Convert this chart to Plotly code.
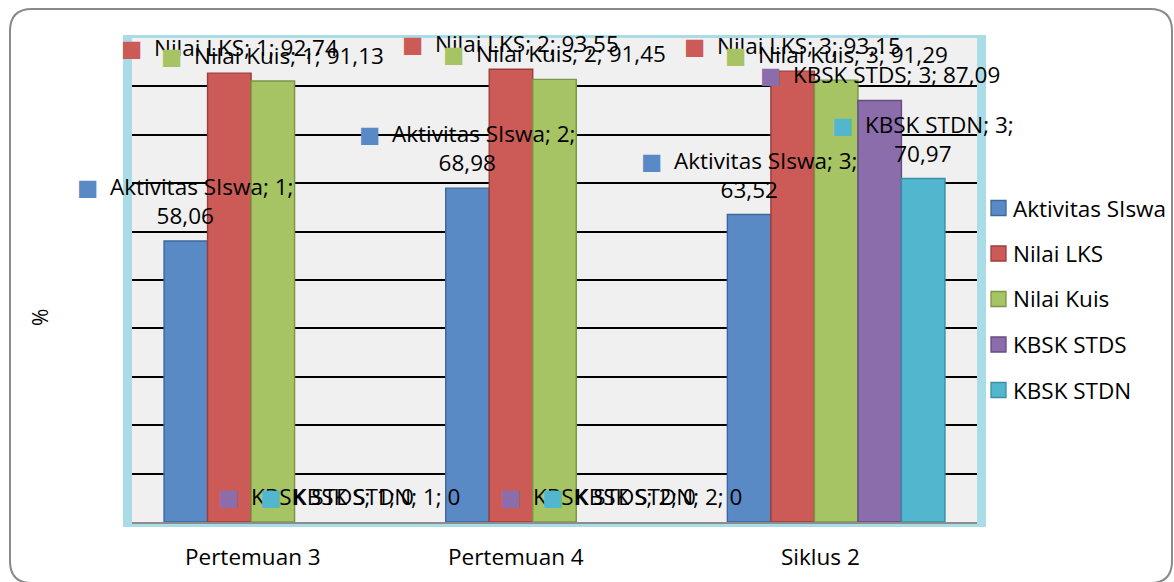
import plotly.graph_objects as go

# --- data -------------------------------------------------------------
categories = ["Pertemuan 3", "Pertemuan 4", "Siklus 2"]
series_names = ["Aktivitas SIswa", "Nilai LKS", "Nilai Kuis", "KBSK STDS", "KBSK STDN"]
aktivitas_siswa = [58.06, 68.98, 63.52]
nilai_lks = [92.74, 93.55, 93.15]
nilai_kuis = [91.13, 91.45, 91.29]
kbsk_stds = [0, 0, 87.09]
kbsk_stdn = [0, 0, 70.97]
y_title = "%"

series_values = [aktivitas_siswa, nilai_lks, nilai_kuis, kbsk_stds, kbsk_stdn]

# --- style ------------------------------------------------------------
FONT = "Open Sans"
FILL = ["#5A8AC6", "#CC5A56", "#A6C463", "#8A6DAA", "#52B6CF"]
EDGE = ["#3D679C", "#9A3E3B", "#7A9545", "#654C85", "#3A8EA6"]
W, H = 1174, 582
L, R, T, B = 132, 197, 38, 60
BARGAP = 0.2275
LABEL_SIZE = 22.5

# labels that wrap onto a second line (series index, category index)
WRAPPED = {(0, 0), (0, 1), (0, 2), (4, 2)}
cat_label_shift = [-20, -39, -16]

plot_w = W - L - R
plot_h = H - T - B


def px_x(px):
    return (px - L) / plot_w


def px_y(py):
    return (H - B - py) / plot_h


def fmt(v):
    return "0" if v == 0 else f"{v:.2f}".replace(".", ",")


fig = go.Figure()
x_pos = list(range(len(categories)))
for k, (name, vals) in enumerate(zip(series_names, series_values)):
    fig.add_trace(go.Bar(
        x=x_pos, y=vals, name=name, showlegend=False,
        marker=dict(color=FILL[k],
                    line=dict(color=EDGE[k], width=[1.4 if v else 0 for v in vals])),
        hoverinfo="skip",
    ))

# data labels with a colour key, above each bar
n = len(series_names)
bar_w = (1 - BARGAP) / n
annotations = []
for k, (name, vals) in enumerate(zip(series_names, series_values)):
    for i, v in enumerate(vals):
        xc = i - (1 - BARGAP) / 2 + (k + 0.5) * bar_w
        head = f"{name}; {i + 1};"
        sep = "<br>" if (k, i) in WRAPPED else " "
        key = f'<span style="color:{FILL[k]};font-family:DejaVu Sans">■</span>\u00a0\u00a0'
        annotations.append(dict(
            x=xc, y=v, xref="x", yref="y", text=key + head + sep + fmt(v),
            showarrow=False, xanchor="center", yanchor="bottom", yshift=8,
            align="center", font=dict(family=FONT, size=LABEL_SIZE, color="#000000"),
        ))

# category names under the axis
for i, c in enumerate(categories):
    annotations.append(dict(
        x=i, y=0, xref="x", yref="paper", text=c, showarrow=False,
        xanchor="center", yanchor="middle", yshift=-34, xshift=cat_label_shift[i],
        font=dict(family=FONT, size=LABEL_SIZE, color="#000000"),
    ))

# value axis title
annotations.append(dict(
    x=px_x(40), y=px_y(318), xref="paper", yref="paper", text=y_title,
    textangle=-90, showarrow=False, xanchor="center", yanchor="middle",
    font=dict(family=FONT, size=21, color="#000000"),
))

# outer rounded frame of the chart
r = 22
x0, x1, y0, y1 = 10, 1172, 9, 583
frame = (
    f"M {px_x(x0)},{px_y(y1 - r)} L {px_x(x0)},{px_y(y0 + r)} "
    f"Q {px_x(x0)},{px_y(y0)} {px_x(x0 + r)},{px_y(y0)} "
    f"L {px_x(x1 - r)},{px_y(y0)} Q {px_x(x1)},{px_y(y0)} {px_x(x1)},{px_y(y0 + r)} "
    f"L {px_x(x1)},{px_y(y1 - r)} Q {px_x(x1)},{px_y(y1)} {px_x(x1 - r)},{px_y(y1)} "
    f"L {px_x(x0 + r)},{px_y(y1)} Q {px_x(x0)},{px_y(y1)} {px_x(x0)},{px_y(y1 - r)} Z"
)

shapes = [
    # cyan textured border around the plot area
    dict(type="rect", xref="paper", yref="paper", layer="below",
         x0=px_x(123), x1=px_x(986), y0=px_y(527), y1=px_y(35),
         fillcolor="#A9DCE6", line=dict(width=0)),
    dict(type="rect", xref="paper", yref="paper", layer="below",
         x0=0, x1=1, y0=0, y1=1, fillcolor="#F0F0F0", line=dict(width=0)),
    dict(type="path", xref="paper", yref="paper", path=frame, layer="below",
         line=dict(color="#8A8A8A", width=2)),
]

# legend: colour squares with series names, right of the plot
LEG_X, LEG_Y0, LEG_STEP, KEY = 991, 208, 45.5, 15
for k, name in enumerate(series_names):
    cy = LEG_Y0 + k * LEG_STEP
    shapes.append(dict(
        type="rect", xref="paper", yref="paper", layer="above",
        x0=px_x(LEG_X), x1=px_x(LEG_X + KEY),
        y0=px_y(cy + KEY / 2), y1=px_y(cy - KEY / 2),
        fillcolor=FILL[k], line=dict(color=EDGE[k], width=1.3),
    ))
    annotations.append(dict(
        x=px_x(LEG_X + KEY + 5), y=px_y(cy), xref="paper", yref="paper",
        text=name, showarrow=False, xanchor="left", yanchor="middle",
        font=dict(family=FONT, size=LABEL_SIZE, color="#000000"),
    ))

fig.update_layout(
    width=W, height=H, autosize=False,
    margin=dict(l=L, r=R, t=T, b=B, pad=0),
    paper_bgcolor="#FFFFFF", plot_bgcolor="#F0F0F0",
    barmode="group", bargap=BARGAP, bargroupgap=0,
    font=dict(family=FONT, size=22, color="#000000"),
    xaxis=dict(range=[-0.5, len(categories) - 0.5], showticklabels=False,
               showgrid=False, zeroline=False, ticks="",
               showline=True, linecolor="#8C8C8C", linewidth=2),
    yaxis=dict(range=[0, 100], dtick=10, showticklabels=False, ticks="",
               showgrid=True, gridcolor="#000000", gridwidth=2,
               zeroline=False, showline=False),
    annotations=annotations,
    shapes=shapes,
    showlegend=False,
)

fig.write_html("out.html")
